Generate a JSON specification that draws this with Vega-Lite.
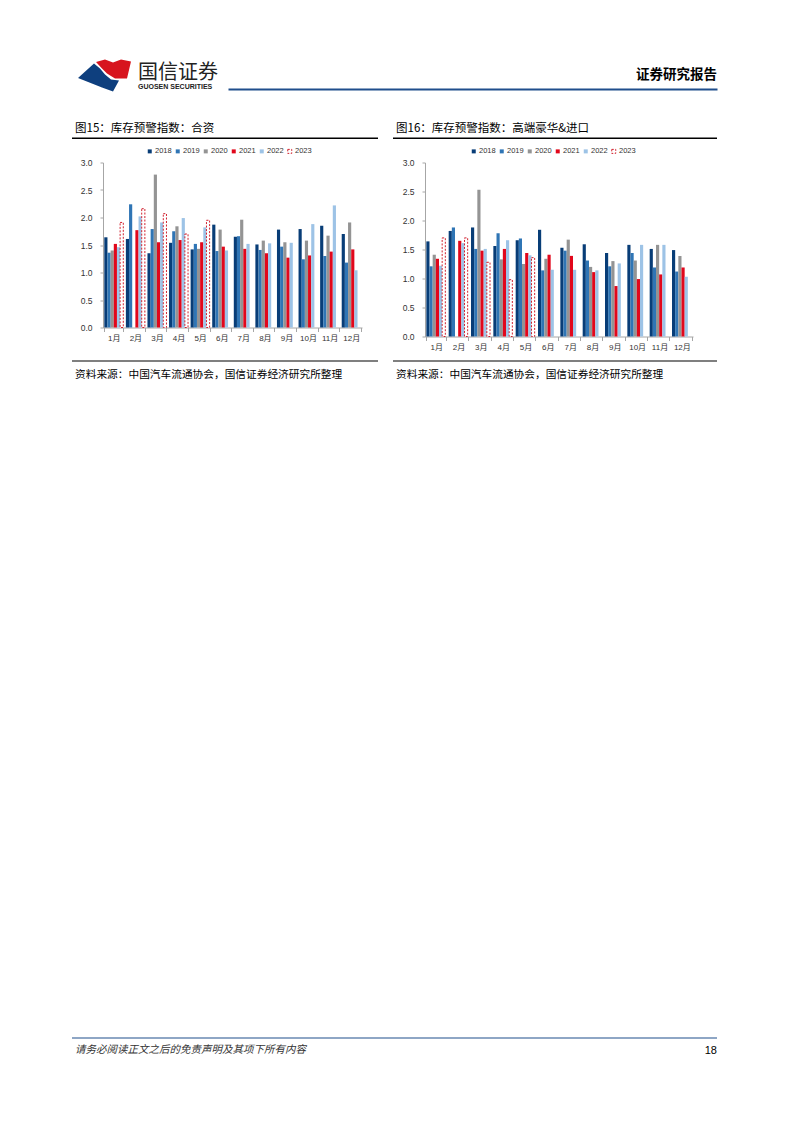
{
 "$schema": "https://vega.github.io/schema/vega-lite/v6.json",
 "background": "white",
 "padding": {"left": 72, "top": 57, "right": 10, "bottom": 10},
 "config": {
  "font": "Liberation Sans, Noto Sans CJK SC",
  "view": {"stroke": null},
  "title": {"font": "Noto Sans CJK SC", "color": "#000", "fontWeight": "normal"},
  "axis": {"labelFont": "Liberation Sans, Noto Sans CJK SC", "labelColor": "#333", "domainColor": "#a6a6a6", "tickColor": "#a6a6a6", "grid": false, "title": null},
  "legend": {"title": null, "orient": "none", "legendY": -15, "direction": "horizontal", "columns": 6, "symbolType": "square", "symbolSize": 16, "labelFontSize": 7.5, "labelFont": "Liberation Sans", "labelColor": "#333", "columnPadding": 1, "labelOffset": 1.5, "padding": 0, "symbolStrokeWidth": 1}
 },
 "datasets": {
  "c15": [
   {"month": "1月", "year": "2018", "value": 1.64}, {"month": "1月", "year": "2019", "value": 1.36}, {"month": "1月", "year": "2020", "value": 1.40}, {"month": "1月", "year": "2021", "value": 1.52}, {"month": "1月", "year": "2022", "value": 1.46}, {"month": "1月", "year": "2023", "value": 1.91},
   {"month": "2月", "year": "2018", "value": 1.61}, {"month": "2月", "year": "2019", "value": 2.24}, {"month": "2月", "year": "2021", "value": 1.77}, {"month": "2月", "year": "2022", "value": 2.02}, {"month": "2月", "year": "2023", "value": 2.16},
   {"month": "3月", "year": "2018", "value": 1.35}, {"month": "3月", "year": "2019", "value": 1.79}, {"month": "3月", "year": "2020", "value": 2.78}, {"month": "3月", "year": "2021", "value": 1.55}, {"month": "3月", "year": "2022", "value": 1.91}, {"month": "3月", "year": "2023", "value": 2.07},
   {"month": "4月", "year": "2018", "value": 1.54}, {"month": "4月", "year": "2019", "value": 1.75}, {"month": "4月", "year": "2020", "value": 1.84}, {"month": "4月", "year": "2021", "value": 1.59}, {"month": "4月", "year": "2022", "value": 1.99}, {"month": "4月", "year": "2023", "value": 1.70},
   {"month": "5月", "year": "2018", "value": 1.42}, {"month": "5月", "year": "2019", "value": 1.52}, {"month": "5月", "year": "2020", "value": 1.43}, {"month": "5月", "year": "2021", "value": 1.55}, {"month": "5月", "year": "2022", "value": 1.82}, {"month": "5月", "year": "2023", "value": 1.95},
   {"month": "6月", "year": "2018", "value": 1.87}, {"month": "6月", "year": "2019", "value": 1.39}, {"month": "6月", "year": "2020", "value": 1.78}, {"month": "6月", "year": "2021", "value": 1.47}, {"month": "6月", "year": "2022", "value": 1.40},
   {"month": "7月", "year": "2018", "value": 1.65}, {"month": "7月", "year": "2019", "value": 1.66}, {"month": "7月", "year": "2020", "value": 1.96}, {"month": "7月", "year": "2021", "value": 1.43}, {"month": "7月", "year": "2022", "value": 1.52},
   {"month": "8月", "year": "2018", "value": 1.51}, {"month": "8月", "year": "2019", "value": 1.41}, {"month": "8月", "year": "2020", "value": 1.58}, {"month": "8月", "year": "2021", "value": 1.35}, {"month": "8月", "year": "2022", "value": 1.53},
   {"month": "9月", "year": "2018", "value": 1.78}, {"month": "9月", "year": "2019", "value": 1.47}, {"month": "9月", "year": "2020", "value": 1.55}, {"month": "9月", "year": "2021", "value": 1.27}, {"month": "9月", "year": "2022", "value": 1.54},
   {"month": "10月", "year": "2018", "value": 1.79}, {"month": "10月", "year": "2019", "value": 1.24}, {"month": "10月", "year": "2020", "value": 1.58}, {"month": "10月", "year": "2021", "value": 1.31}, {"month": "10月", "year": "2022", "value": 1.88},
   {"month": "11月", "year": "2018", "value": 1.85}, {"month": "11月", "year": "2019", "value": 1.30}, {"month": "11月", "year": "2020", "value": 1.67}, {"month": "11月", "year": "2021", "value": 1.38}, {"month": "11月", "year": "2022", "value": 2.22},
   {"month": "12月", "year": "2018", "value": 1.70}, {"month": "12月", "year": "2019", "value": 1.18}, {"month": "12月", "year": "2020", "value": 1.91}, {"month": "12月", "year": "2021", "value": 1.42}, {"month": "12月", "year": "2022", "value": 1.04}
  ],
  "c16": [
   {"month": "1月", "year": "2018", "value": 1.64}, {"month": "1月", "year": "2019", "value": 1.21}, {"month": "1月", "year": "2020", "value": 1.41}, {"month": "1月", "year": "2021", "value": 1.34}, {"month": "1月", "year": "2022", "value": 1.22}, {"month": "1月", "year": "2023", "value": 1.70},
   {"month": "2月", "year": "2018", "value": 1.82}, {"month": "2月", "year": "2019", "value": 1.88}, {"month": "2月", "year": "2021", "value": 1.65}, {"month": "2月", "year": "2022", "value": 1.61}, {"month": "2月", "year": "2023", "value": 1.70},
   {"month": "3月", "year": "2018", "value": 1.88}, {"month": "3月", "year": "2019", "value": 1.51}, {"month": "3月", "year": "2020", "value": 2.53}, {"month": "3月", "year": "2021", "value": 1.48}, {"month": "3月", "year": "2022", "value": 1.51}, {"month": "3月", "year": "2023", "value": 1.28},
   {"month": "4月", "year": "2018", "value": 1.56}, {"month": "4月", "year": "2019", "value": 1.78}, {"month": "4月", "year": "2020", "value": 1.33}, {"month": "4月", "year": "2021", "value": 1.51}, {"month": "4月", "year": "2022", "value": 1.66}, {"month": "4月", "year": "2023", "value": 0.98},
   {"month": "5月", "year": "2018", "value": 1.66}, {"month": "5月", "year": "2019", "value": 1.69}, {"month": "5月", "year": "2020", "value": 1.25}, {"month": "5月", "year": "2021", "value": 1.44}, {"month": "5月", "year": "2022", "value": 1.40}, {"month": "5月", "year": "2023", "value": 1.36},
   {"month": "6月", "year": "2018", "value": 1.84}, {"month": "6月", "year": "2019", "value": 1.14}, {"month": "6月", "year": "2020", "value": 1.34}, {"month": "6月", "year": "2021", "value": 1.41}, {"month": "6月", "year": "2022", "value": 1.15},
   {"month": "7月", "year": "2018", "value": 1.53}, {"month": "7月", "year": "2019", "value": 1.48}, {"month": "7月", "year": "2020", "value": 1.67}, {"month": "7月", "year": "2021", "value": 1.39}, {"month": "7月", "year": "2022", "value": 1.15},
   {"month": "8月", "year": "2018", "value": 1.59}, {"month": "8月", "year": "2019", "value": 1.31}, {"month": "8月", "year": "2020", "value": 1.20}, {"month": "8月", "year": "2021", "value": 1.11}, {"month": "8月", "year": "2022", "value": 1.14},
   {"month": "9月", "year": "2018", "value": 1.44}, {"month": "9月", "year": "2019", "value": 1.21}, {"month": "9月", "year": "2020", "value": 1.30}, {"month": "9月", "year": "2021", "value": 0.87}, {"month": "9月", "year": "2022", "value": 1.26},
   {"month": "10月", "year": "2018", "value": 1.58}, {"month": "10月", "year": "2019", "value": 1.44}, {"month": "10月", "year": "2020", "value": 1.31}, {"month": "10月", "year": "2021", "value": 0.99}, {"month": "10月", "year": "2022", "value": 1.58},
   {"month": "11月", "year": "2018", "value": 1.51}, {"month": "11月", "year": "2019", "value": 1.19}, {"month": "11月", "year": "2020", "value": 1.58}, {"month": "11月", "year": "2021", "value": 1.07}, {"month": "11月", "year": "2022", "value": 1.58},
   {"month": "12月", "year": "2018", "value": 1.49}, {"month": "12月", "year": "2019", "value": 1.12}, {"month": "12月", "year": "2020", "value": 1.39}, {"month": "12月", "year": "2021", "value": 1.19}, {"month": "12月", "year": "2022", "value": 1.03}
  ]
 },
 "spacing": 30.5,
 "vconcat": [
  {
   "hconcat": [
    {
     "width": 66, "height": 35,
     "data": {"values": [{}]},
     "layer": [
      {"mark": {"type": "point", "shape": "M -9 -12.5 L 0 -15 L 8 -12 L 16 -15 L 26 -13 L 22 4 L 10 4 L 2 -1 L -3 -6 Z", "size": 4, "filled": true, "color": "#d7141e", "opacity": 1, "strokeWidth": 0}},
      {"mark": {"type": "point", "shape": "M -27 3.5 L -11 -11 L -5 -6 L 0 0 L 6 5 L 14 6 L 8 17 L -3 13 Z", "size": 4, "filled": true, "color": "#0e3f7e", "opacity": 1, "strokeWidth": 0}}
     ]
    },
    {
     "width": 90, "height": 35,
     "data": {"values": [{}]},
     "mark": {"type": "text", "text": ""},
     "title": {"text": "国信证券", "subtitle": "GUOSEN SECURITIES", "orient": "bottom", "anchor": "start", "frame": "group", "baseline": "top", "offset": -29, "fontSize": 20, "color": "#222", "subtitleFont": "Liberation Sans", "subtitleFontSize": 7, "subtitleFontWeight": "bold", "subtitleColor": "#222", "subtitlePadding": 0}
    },
    {
     "width": 489, "height": 32,
     "data": {"values": [{"v": 0}, {"v": 1}]},
     "mark": {"type": "point", "opacity": 0},
     "encoding": {
      "x": {"field": "v", "type": "quantitative", "scale": {"domain": [0, 1], "nice": false}, "axis": {"orient": "bottom", "domainColor": "#1f4e8c", "domainWidth": 2, "ticks": false, "labels": false, "grid": false, "title": null}}
     },
     "title": {"text": "证券研究报告", "orient": "bottom", "anchor": "end", "frame": "group", "baseline": "top", "offset": -21.5, "fontSize": 13.5, "fontWeight": "bold", "color": "#000"}
    }
   ],
   "spacing": 0, "bounds": "flush"
  },
  {
   "spacing": 4,
   "vconcat": [
    {
     "hconcat": [
      {"width": 306, "height": 1.5, "view": {"fill": "#000", "stroke": null}, "data": {"values": [{}]}, "mark": {"type": "text", "text": ""},
       "title": {"text": "图15：库存预警指数：合资", "orient": "top", "anchor": "start", "frame": "group", "baseline": "bottom", "offset": -13.5, "dx": 3, "fontSize": 11.5}},
      {"width": 324, "height": 1.5, "view": {"fill": "#000", "stroke": null}, "data": {"values": [{}]}, "mark": {"type": "text", "text": ""},
       "title": {"text": "图16：库存预警指数：高端豪华&进口", "orient": "top", "anchor": "start", "frame": "group", "baseline": "bottom", "offset": -13.5, "dx": 3, "fontSize": 11.5}}
     ],
     "spacing": 15, "bounds": "flush"
    },
    {
     "spacing": 3,
     "vconcat": [
      {
       "hconcat": [
        {"width": 31, "height": 1, "data": {"values": [{}]}, "mark": {"type": "text", "text": ""}},
        {
         "width": 259, "height": 165,
         "data": {"name": "c15"},
         "mark": {"type": "bar", "strokeWidth": 1},
         "encoding": {
          "x": {"field": "month", "type": "nominal", "sort": ["1月","2月","3月","4月","5月","6月","7月","8月","9月","10月","11月","12月"], "scale": {"paddingInner": 0.12, "paddingOuter": 0.06}, "axis": {"labelAngle": 0, "labelFontSize": 8, "tickSize": 4, "tickBand": "extent", "labelPadding": 3}},
          "xOffset": {"field": "year", "type": "nominal", "scale": {"domain": ["2018","2019","2020","2021","2022","2023"], "paddingInner": 0, "paddingOuter": 0}},
          "y": {"field": "value", "type": "quantitative", "scale": {"domain": [0, 3], "nice": false}, "axis": {"values": [0, 0.5, 1, 1.5, 2, 2.5, 3], "format": ".1f", "labelFontSize": 8.5, "tickSize": 3, "labelPadding": 8}},
          "fill": {"field": "year", "type": "nominal", "scale": {"domain": ["2018","2019","2020","2021","2022","2023"], "range": ["#083d77","#2f75b5","#949494","#e1071b","#9dc3e6","#ffffff"]}, "legend": {"legendX": 43}},
          "stroke": {"field": "year", "type": "nominal", "scale": {"domain": ["2018","2019","2020","2021","2022","2023"], "range": ["transparent","transparent","transparent","transparent","transparent","#d0202e"]}, "legend": {"legendX": 43}},
          "strokeDash": {"field": "year", "type": "nominal", "scale": {"domain": ["2018","2019","2020","2021","2022","2023"], "range": [[1,0],[1,0],[1,0],[1,0],[1,0],[2,1.5]]}, "legend": {"legendX": 43}}
         }
        },
        {"width": 63, "height": 1, "data": {"values": [{}]}, "mark": {"type": "text", "text": ""}},
        {
         "width": 268, "height": 174,
         "data": {"name": "c16"},
         "mark": {"type": "bar", "strokeWidth": 1},
         "encoding": {
          "x": {"field": "month", "type": "nominal", "sort": ["1月","2月","3月","4月","5月","6月","7月","8月","9月","10月","11月","12月"], "scale": {"paddingInner": 0.12, "paddingOuter": 0.06}, "axis": {"labelAngle": 0, "labelFontSize": 8, "tickSize": 4, "tickBand": "extent", "labelPadding": 3}},
          "xOffset": {"field": "year", "type": "nominal", "scale": {"domain": ["2018","2019","2020","2021","2022","2023"], "paddingInner": 0, "paddingOuter": 0}},
          "y": {"field": "value", "type": "quantitative", "scale": {"domain": [0, 3], "nice": false}, "axis": {"values": [0, 0.5, 1, 1.5, 2, 2.5, 3], "format": ".1f", "labelFontSize": 8.5, "tickSize": 3, "labelPadding": 8}},
          "fill": {"field": "year", "type": "nominal", "scale": {"domain": ["2018","2019","2020","2021","2022","2023"], "range": ["#083d77","#2f75b5","#949494","#e1071b","#9dc3e6","#ffffff"]}, "legend": {"legendX": 45}},
          "stroke": {"field": "year", "type": "nominal", "scale": {"domain": ["2018","2019","2020","2021","2022","2023"], "range": ["transparent","transparent","transparent","transparent","transparent","#d0202e"]}, "legend": {"legendX": 45}},
          "strokeDash": {"field": "year", "type": "nominal", "scale": {"domain": ["2018","2019","2020","2021","2022","2023"], "range": [[1,0],[1,0],[1,0],[1,0],[1,0],[2,1.5]]}, "legend": {"legendX": 45}}
         }
        }
       ],
       "spacing": 0, "bounds": "flush",
       "resolve": {"scale": {"fill": "independent", "stroke": "independent", "strokeDash": "independent"}, "legend": {"fill": "independent", "stroke": "independent", "strokeDash": "independent"}}
      },
      {
       "spacing": 652,
       "vconcat": [
        {
         "hconcat": [
          {"width": 306, "height": 1, "view": {"fill": "#000", "stroke": null}, "data": {"values": [{}]}, "mark": {"type": "text", "text": ""},
           "title": {"text": "资料来源：中国汽车流通协会，国信证券经济研究所整理", "orient": "bottom", "anchor": "start", "frame": "group", "baseline": "top", "offset": 3.6, "dx": 3, "fontSize": 10.7}},
          {"width": 324, "height": 1, "view": {"fill": "#000", "stroke": null}, "data": {"values": [{}]}, "mark": {"type": "text", "text": ""},
           "title": {"text": "资料来源：中国汽车流通协会，国信证券经济研究所整理", "orient": "bottom", "anchor": "start", "frame": "group", "baseline": "top", "offset": 3.6, "dx": 3, "fontSize": 10.7}}
         ],
         "spacing": 15, "bounds": "flush"
        },
        {
         "hconcat": [
          {"width": 600, "height": 1, "view": {"fill": "#1f4e8c", "stroke": null}, "data": {"values": [{}]}, "mark": {"type": "text", "text": ""},
           "title": {"text": "请务必阅读正文之后的免责声明及其项下所有内容", "orient": "bottom", "anchor": "start", "frame": "group", "baseline": "top", "offset": 1.7, "dx": 3, "fontSize": 10.5, "fontStyle": "italic", "color": "#333"}},
          {"width": 45, "height": 1, "view": {"fill": "#1f4e8c", "stroke": null}, "data": {"values": [{}]}, "mark": {"type": "text", "text": ""},
           "title": {"text": "18", "orient": "bottom", "anchor": "end", "frame": "group", "baseline": "top", "offset": 1.7, "fontSize": 11, "font": "Liberation Sans", "color": "#000"}}
         ],
         "spacing": 0, "bounds": "flush"
        }
       ]
      }
     ]
    }
   ]
  }
 ]
}
